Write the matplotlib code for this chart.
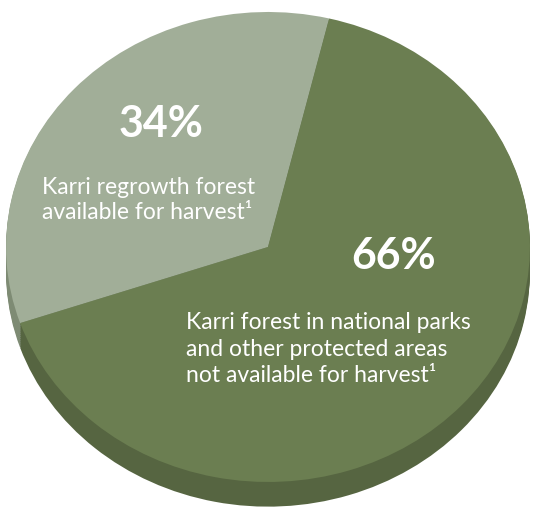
import numpy as np
import matplotlib.pyplot as plt

# share of karri forest
shares = [34, 66]
pct_labels = ['34%', '66%']
desc_labels = ['Karri regrowth forest\navailable for harvest\u00b9',
               'Karri forest in national parks\nand other protected areas\nnot available for harvest\u00b9']
top_colors = ['#a1ae98', '#6b7e51']
side_colors = ['#7e8b74', '#566541']

plt.rcParams['font.family'] = ['Lato', 'DejaVu Sans']

fig = plt.figure(figsize=(5.37, 5.09), dpi=100)
ax = fig.add_axes([0, 0, 1, 1])

# fake 3d depth: stack of darker pies below the top face
depth = 0.105
for off in np.linspace(-depth, -0.005, 12):
    ax.pie(shares, colors=side_colors, startangle=76.5, counterclock=True,
           center=(0, off), radius=1, wedgeprops=dict(linewidth=0))
ax.pie(shares, colors=top_colors, startangle=76.5, counterclock=True,
       center=(0, 0), radius=1, wedgeprops=dict(linewidth=0))

ax.set_aspect('auto')
ax.set_xlim(-1.023, 1.027)
ax.set_ylim(-1.115, 1.051)
ax.axis('off')

W, H = 537, 509
fig.text(161 / W, 1 - 124 / H, pct_labels[0], color='white', fontsize=31,
         fontweight='bold', ha='center', va='center')
fig.text(42 / W, 1 - 200 / H, desc_labels[0], color='white', fontsize=16.5,
         ha='left', va='center', linespacing=1.2)
fig.text(394 / W, 1 - 256 / H, pct_labels[1], color='white', fontsize=31,
         fontweight='bold', ha='center', va='center')
fig.text(186 / W, 1 - 349 / H, desc_labels[1], color='white', fontsize=16.5,
         ha='left', va='center', linespacing=1.3)

fig.savefig('out.png', dpi=100)
